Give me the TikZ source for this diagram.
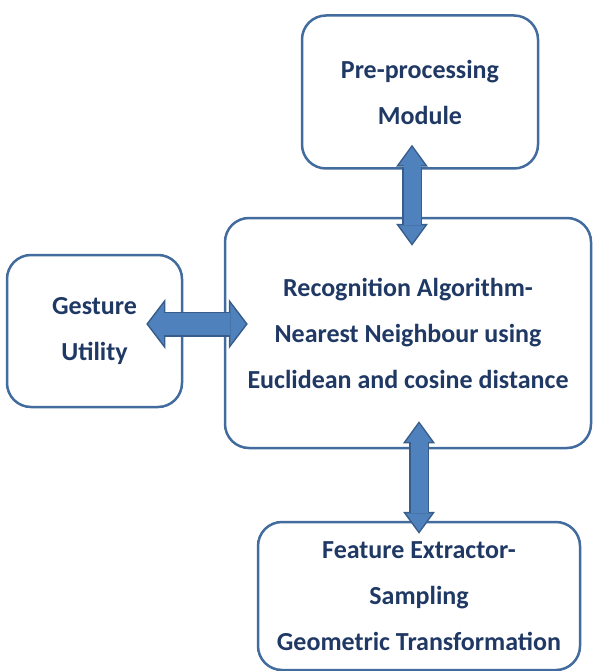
\documentclass[tikz,border=0pt]{standalone}
\usepackage{fontspec}
\setmainfont{Carlito}
\usepackage{tikz}
\usetikzlibrary{arrows.meta,positioning,shapes}
\definecolor{boxline}{RGB}{66,108,158}
\definecolor{arrowfill}{RGB}{79,129,189}
\definecolor{arrowline}{RGB}{56,93,138}
\definecolor{labeltext}{RGB}{31,56,100}

\begin{document}
\begin{tikzpicture}[x=1pt,y=-1pt]
	\tikzstyle{module}
	  =[draw=boxline, line width=2.5pt, rounded corners=24pt, rectangle,
	  text=labeltext, font=\fontsize{26}{46}\selectfont\bfseries,
	  align=center, inner sep=0pt]
	\tikzstyle{linkout}
	  =[draw=arrowline, line width=20pt,
	  >={Triangle[width=32pt,length=22pt,line width=0pt]}, <->]
	\tikzstyle{linkin}
	  =[draw=arrowfill, line width=17pt,
	  >={Triangle[width=26pt,length=18pt,line width=0pt]}, <->]
	\tikzstyle{hlinkout}
	  =[draw=arrowline, line width=25pt,
	  >={Triangle[width=50pt,length=19pt,line width=0pt]}, <->]
	\tikzstyle{hlinkin}
	  =[draw=arrowfill, line width=22pt,
	  >={Triangle[width=41pt,length=15.5pt,line width=0pt]}, <->]

	\useasboundingbox (0,0) rectangle (593,671);

	\node[module, minimum width=236pt, minimum height=153pt] (pre)
	  at (420,92) {Pre-processing\\Module};
	\node[module, minimum width=175pt, minimum height=152pt] (gest)
	  at (94.5,331) {Gesture\\Utility};
	\node[module, minimum width=366pt, minimum height=230pt] (rec)
	  at (408,333) {Recognition Algorithm-\\Nearest Neighbour using\\Euclidean and cosine distance};
	\node[module, minimum width=322pt, minimum height=148pt] (feat)
	  at (419,596) {Feature Extractor-\\Sampling\\Geometric Transformation};

	% outline of the block arrows
	\draw[linkout, shorten <=-25pt, shorten >=-29pt]
	  ([xshift=-8pt]pre.south) -- ([xshift=-8pt]pre.south |- rec.north);
	\draw[hlinkout, shorten <=-37pt, shorten >=-24pt]
	  ([yshift=7pt]gest.east) -- ([yshift=7pt]gest.east -| rec.west);
	\draw[linkout, shorten <=-28pt, shorten >=-13pt]
	  (feat.north |- rec.south) -- (feat.north);
	% fill of the block arrows
	\draw[linkin, shorten <=-22.5pt, shorten >=-26.5pt]
	  ([xshift=-8pt]pre.south) -- ([xshift=-8pt]pre.south |- rec.north);
	\draw[hlinkin, shorten <=-35pt, shorten >=-22pt]
	  ([yshift=7pt]gest.east) -- ([yshift=7pt]gest.east -| rec.west);
	\draw[linkin, shorten <=-25.5pt, shorten >=-10.5pt]
	  (feat.north |- rec.south) -- (feat.north);
\end{tikzpicture}
\end{document}
